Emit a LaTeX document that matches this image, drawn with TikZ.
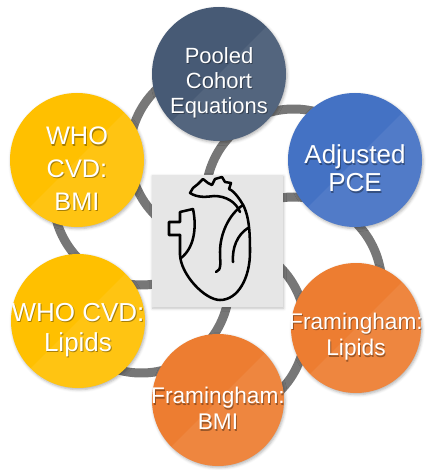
\documentclass[tikz,border=0pt]{standalone}
\usepackage{fontspec}
\setmainfont{Liberation Sans}
\usetikzlibrary{shadows.blur}

\definecolor{slate}{HTML}{475A75}
\definecolor{officeblue}{HTML}{4472C4}
\definecolor{officeorange}{HTML}{ED7D31}
\definecolor{gold}{HTML}{FFC000}
\definecolor{linkgray}{HTML}{777777}
\definecolor{boxgray}{HTML}{E6E6E6}

\newcommand{\fsA}{\fontsize{16.5}{18.5}\selectfont}
\newcommand{\fsB}{\fontsize{19.5}{21}\selectfont}
\newcommand{\fsW}{\fontsize{19}{24.4}\selectfont}
\newcommand{\fsC}{\fontsize{19.5}{22.5}\selectfont}
\newcommand{\fsD}{\fontsize{17}{20}\selectfont}
\newcommand{\fsE}{\fontsize{17}{19.5}\selectfont}

\tikzset{
  bubble/.style={circle, inner sep=0pt,
    blur shadow={shadow xshift=0.8pt, shadow yshift=-1.2pt, shadow opacity=30}},
  txt/.style={text=white, align=center, inner sep=0pt},
  txtshade/.style={text=black, text opacity=0.35, align=center, inner sep=0pt},
  link/.style={draw=linkgray, line width=6.75pt},
  heartbox/.style={fill=boxgray, minimum width=98.25pt, minimum height=99pt,
    inner sep=0pt, blur shadow={shadow xshift=0.5pt, shadow yshift=-1pt, shadow opacity=25}},
  heartline/.style={line width=1.9pt, line join=round, line cap=round},
}

% name, position, colour, radius, font, text
\newcommand{\bubble}[6]{%
  \node[bubble, fill=#3, minimum size=2*#4] (#1) at #2 {};
  \begin{scope}
    \clip (#1.center) circle (#4);
    \fill[white, opacity=0.07] ([shift={(-135:2*#4)}]#1.center) --
      ([shift={(45:2*#4)}]#1.center) -- ([shift={(-45:2*#4)}]#1.center) -- cycle;
  \end{scope}
  \node[txtshade, font=#5] at ([shift={(0.7pt,-7.4pt)}]#1.center) {#6};
  \node[txt, font=#5] (#1-text) at ([yshift=-6.5pt]#1.center) {#6};
}

\begin{document}
\begin{tikzpicture}[x=0.75pt, y=-0.75pt]
  \useasboundingbox (0,0) rectangle (425,470);

  % curved spokes from the hub out to each circle
  \coordinate (hub) at (217.5,241);
  \foreach \b in {-90,-30,...,210}
    \draw[link] (hub) arc[start angle=\b-180, end angle=\b, radius=88];

  % centre box with the heart
  \node[heartbox] (centre) at (hub) {};
  \draw[heartline] (180,235) -- (180,255)
      .. controls (181,275) and (205,300) .. (220,300)
      .. controls (238,300) and (250,278) .. (250,252)
      .. controls (250,230) and (249,212) .. (240,200)
      .. controls (236,194) and (232,190) .. (229,189)
      -- (231,183) -- (225,182) -- (222,177) -- (215,179) -- (212,185)
      -- (208,183) -- (203,179) -- (198,184) -- (193,188) -- (190,193)
      .. controls (198,198) and (206,197) .. (214,196)
      .. controls (226,196) and (236,202) .. (240,212);
  \draw[heartline] (193,209) -- (180,212) -- (180,222) -- (169,222)
      -- (169,235) -- (180,235);
  \draw[heartline] (193,209) .. controls (197,228) and (194,248) .. (181,258);
  \draw[heartline] (243,205) .. controls (228,215) and (220,235) .. (220,252)
      .. controls (220,262) and (222,270) .. (216,272);
  \draw[heartline] (248,228) .. controls (237,235) and (232,248) .. (233,262);

  % outer circles
  \bubble{pooled}{(219,74)}{slate}{50.25pt}{\fsA}{Pooled\\Cohort\\Equations}
  \bubble{adjusted}{(355,160)}{officeblue}{50.25pt}{\fsB}{Adjusted\\PCE}
  \bubble{framlip}{(356,328)}{officeorange}{48.75pt}{\fsD}{Framingham:\\Lipids}
  \bubble{frambmi}{(218,400)}{officeorange}{49.5pt}{\fsE}{Framingham:\\BMI}
  \bubble{wholip}{(78,321)}{gold}{50.25pt}{\fsC}{WHO CVD:\\Lipids}
  \bubble{whobmi}{(77,160)}{gold}{50.25pt}{\fsW}{WHO\\CVD:\\BMI}
\end{tikzpicture}
\end{document}
